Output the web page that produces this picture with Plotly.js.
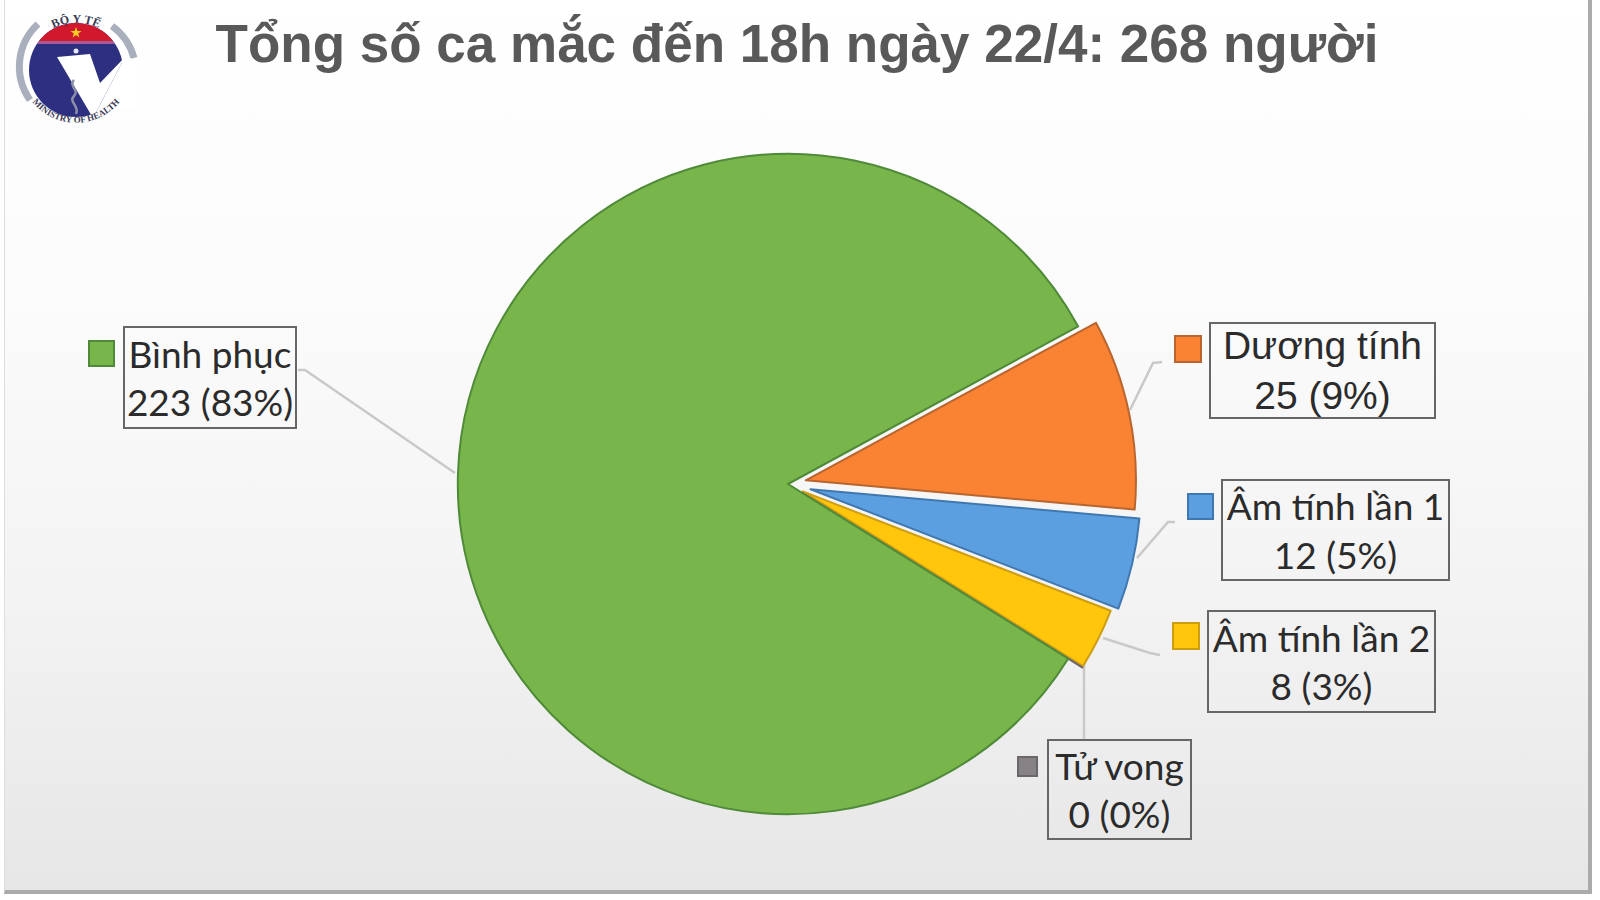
<!DOCTYPE html>
<html>
<head>
<meta charset="utf-8">
<script src="https://cdn.plot.ly/plotly-3.0.1.min.js"></script>
<style>
    html, body { margin: 0; padding: 0; background: #fff; overflow: hidden; }
    #page { position: relative; width: 1600px; height: 900px; }
    #bg {
        position: absolute; left: 4px; top: 0; width: 1588px; height: 894px;
        background: linear-gradient(#ffffff 0%, #fbfbfb 35%, #f2f2f2 70%, #e6e6e6 100%);
        border-right: 4px solid #ababab; border-bottom: 4px solid #ababab; border-left: 1px solid #dddddd;
        box-sizing: border-box;
    }
    #chart { position: absolute; left: 0; top: 0; width: 1600px; height: 900px; }
    #logo { position: absolute; left: 0; top: 0; }
</style>
</head>
<body>
<div id="page">
    <div id="bg"></div>
    <div id="chart"></div>
    <svg id="logo" width="150" height="140" viewBox="0 0 150 140">
        <defs>
            <path id="arcTop" d="M 31 54 A 48 48 0 0 1 121 54"></path>
            <path id="arcBottom" d="M 26 92 A 56 56 0 0 0 126 92"></path>
            <clipPath id="disc"><circle cx="76" cy="70" r="47"></circle></clipPath>
        </defs>
        <path d="M 38 24 A 58 58 0 0 0 30 100" fill="none" stroke="#a9afbd" stroke-width="7"></path>
        <path d="M 112 26 A 58 58 0 0 1 134 58" fill="none" stroke="#a9afbd" stroke-width="7"></path>
        <g clip-path="url(#disc)">
            <rect x="20" y="20" width="110" height="110" fill="#2d2f80"></rect>
            <rect x="20" y="20" width="110" height="21" fill="#d2182c"></rect>
            <rect x="20" y="41" width="110" height="3" fill="#a85a96"></rect>
        </g>
        <path d="M 76 27 L 77.4 31 L 81.5 31 L 78.2 33.5 L 79.4 37.5 L 76 35 L 72.6 37.5 L 73.8 33.5 L 70.5 31 L 74.6 31 Z" fill="#f5d020"></path>
        <path d="M 125 57 L 138 60 L 138 106 L 93 118 Z" fill="#ffffff"></path>
        <path d="M 57 57 L 90 54 L 100 83 L 125 57 L 93 118 Z" fill="#ffffff"></path>
        <circle cx="76" cy="51" r="2.5" fill="#e8e8f0"></circle>
        <path d="M 74 80 C 68 86 80 90 74 96 C 68 102 80 106 76 114" fill="none" stroke="#8d90a8" stroke-width="2.5"></path>
        <text font-family="Liberation Serif" font-size="12" font-weight="bold" fill="#3a3a55"><textPath href="#arcTop" startOffset="50%" text-anchor="middle">BỘ Y TẾ</textPath></text>
        <text font-family="Liberation Serif" font-size="9" font-weight="bold" fill="#3a3a55"><textPath href="#arcBottom" startOffset="50%" text-anchor="middle">MINISTRY OF HEALTH</textPath></text>
    </svg>
</div>
<script>
const chartTitle = "Tổng số ca mắc đến 18h ngày 22/4: 268 người"
const categories = ["Dương tính", "Âm tính lần 1", "Âm tính lần 2", "Tử vong", "Bình phục"]
const cases = [25, 12, 8, 0, 223]
const percents = [9, 5, 3, 0, 83]

const sliceColors = ["#F98233", "#5B9FE0", "#FFC60B", "#878286", "#78B54A"]
const edgeColors = ["#B9652F", "#3F78B0", "#CF9D10", "#6A666A", "#4F8A38"]

// label boxes and legend keys, in page pixels
const boxes = [
    { l: 1209, t: 322, w: 227, h: 97 },
    { l: 1221, t: 479, w: 229, h: 102 },
    { l: 1207, t: 610, w: 229, h: 103 },
    { l: 1047, t: 739, w: 145, h: 101 },
    { l: 123, t: 326, w: 174, h: 103 }
]
const boxFonts = [
    { family: "'Liberation Sans', Arial, sans-serif", size: 39 },
    { family: "Lato, 'Noto Sans', sans-serif", size: 37 },
    { family: "Lato, 'Noto Sans', sans-serif", size: 37 },
    { family: "Lato, 'Noto Sans', sans-serif", size: 37 },
    { family: "Lato, 'Noto Sans', sans-serif", size: 37 }
]
const keys = [
    { l: 1175, t: 336, s: 26 },
    { l: 1188, t: 494, s: 25 },
    { l: 1173, t: 623, s: 26 },
    { l: 1018, t: 757, s: 19 },
    { l: 89, t: 341, s: 25 }
]
const leaders = [
    "M 1130 410 L 1153 363 L 1162 362",
    "M 1137 558 L 1168 522 L 1175 522",
    "M 1103 638 L 1150 653 L 1160 655",
    "M 1084 663 L 1084 739",
    "M 298 370 L 305 370 L 455 473"
]

const W = 1600
const H = 900
const px = x => x / W
const py = y => 1 - y / H

const data = [{
    type: "pie",
    labels: categories,
    values: cases,
    sort: false,
    direction: "clockwise",
    rotation: 61.5,
    pull: [0.055, 0.07, 0.05, 0.05, 0],
    textinfo: "none",
    hoverinfo: "label+value",
    showlegend: false,
    domain: { x: [px(434.7), px(1141.3)], y: [py(837.3), py(130.7)] },
    marker: { colors: sliceColors, line: { color: edgeColors, width: 2 } }
}]

const annotations = categories.map((name, i) => ({
    xref: "paper", yref: "paper",
    x: px(boxes[i].l), y: py(boxes[i].t),
    xanchor: "left", yanchor: "top",
    width: boxes[i].w - 4,
    height: boxes[i].h - 4,
    align: "center", valign: "middle",
    showarrow: false,
    borderwidth: 2,
    borderpad: 0,
    bordercolor: "#666666",
    text: name + "<br>" + cases[i] + " (" + percents[i] + "%)",
    font: { family: boxFonts[i].family, size: boxFonts[i].size, color: "#2b2b2b" }
}))

const shapes = [
    ...leaders.map(p => ({
        type: "path", xref: "paper", yref: "paper", layer: "below", path: "",
        line: { color: "#c9c9c9", width: 2.5 }, _p: p
    })),
    ...keys.map((k, i) => ({
        type: "rect", xref: "paper", yref: "paper",
        x0: px(k.l), x1: px(k.l + k.s), y0: py(k.t), y1: py(k.t + k.s),
        fillcolor: sliceColors[i],
        line: { color: edgeColors[i], width: 2 }
    }))
]
// leader paths are written in page pixels, converted to paper units here
shapes.forEach(s => {
    if (s._p) {
        s.path = s._p.replace(/(\d+) (\d+)/g, (m, a, b) => px(+a) + " " + py(+b))
        delete s._p
    }
})

const layout = {
    width: W,
    height: H,
    margin: { l: 0, r: 0, t: 0, b: 0 },
    paper_bgcolor: "rgba(0,0,0,0)",
    plot_bgcolor: "rgba(0,0,0,0)",
    title: {
        text: chartTitle,
        x: 797 / W, xanchor: "center",
        y: py(43), yanchor: "middle",
        font: { family: "'Liberation Sans', Arial, sans-serif", size: 53, weight: "bold", color: "#595959" }
    },
    annotations: annotations,
    shapes: shapes
}

Plotly.newPlot("chart", data, layout, { displayModeBar: false })
</script>
</body>
</html>
